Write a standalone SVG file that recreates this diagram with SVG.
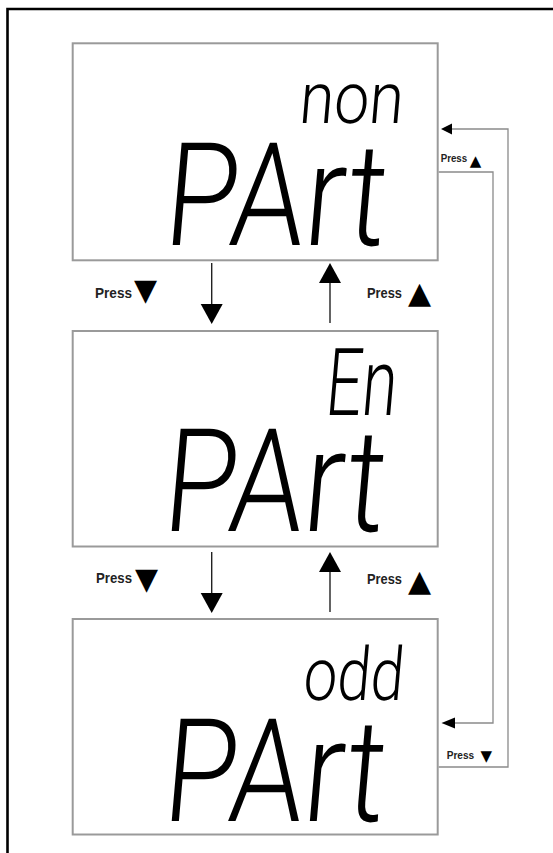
<svg xmlns="http://www.w3.org/2000/svg" width="553" height="853" viewBox="0 0 553 853">
<style>
.frame{fill:none;stroke:#000;stroke-width:2.6}
.box{fill:#fff;stroke:#9a9a9a;stroke-width:2}
.seg{font-family:Roboto,"Open Sans","DejaVu Sans",sans-serif;font-weight:300;fill:#000}
.pr{font-family:"Liberation Sans",Arial,sans-serif;font-weight:bold;fill:#222}
.tri{font-family:"DejaVu Sans",sans-serif;fill:#000}
.arr{stroke:#222;stroke-width:1.4;fill:none}
.fb{stroke:#8a8a8a;stroke-width:1.3;fill:none}
.head{fill:#000}
</style>
<rect width="553" height="853" fill="#fff"/>
<path class="frame" d="M7.5,860 V9 H560"/>

<g id="node-non">
<rect class="box" x="72.7" y="43.3" width="365" height="217"/>
<text class="seg" font-size="72" textLength="104" lengthAdjust="spacingAndGlyphs" transform="translate(298,123) skewX(-5)">non</text>
<text class="seg" font-size="144" textLength="221" lengthAdjust="spacingAndGlyphs" transform="translate(162,245) skewX(-5)">PArt</text>
</g>

<g id="node-en">
<rect class="box" x="72.7" y="331" width="365" height="215.5"/>
<text class="seg" font-size="94" textLength="71" lengthAdjust="spacingAndGlyphs" transform="translate(324,415) skewX(-5)">En</text>
<text class="seg" font-size="144" textLength="221" lengthAdjust="spacingAndGlyphs" transform="translate(161,531) skewX(-5)">PArt</text>
</g>

<g id="node-odd">
<rect class="box" x="72.7" y="619" width="365" height="215.5"/>
<text class="seg" font-size="74" textLength="100" lengthAdjust="spacingAndGlyphs" transform="translate(302,700) skewX(-5)">odd</text>
<text class="seg" font-size="144" textLength="221" lengthAdjust="spacingAndGlyphs" transform="translate(161,821) skewX(-5)">PArt</text>
</g>

<g id="connectors">
<line class="arr" x1="211.7" y1="263" x2="211.7" y2="305"/>
<polygon class="head" points="200.7,304 222.7,304 211.7,324"/>
<line class="arr" x1="330" y1="282" x2="330" y2="323"/>
<polygon class="head" points="319,283 341,283 330,263"/>
<line class="arr" x1="211.7" y1="552" x2="211.7" y2="594"/>
<polygon class="head" points="200.7,593 222.7,593 211.7,613"/>
<line class="arr" x1="330" y1="571" x2="330" y2="612"/>
<polygon class="head" points="319,572 341,572 330,552"/>

<polyline class="fb" points="438.7,767 508,767 508,129 451,129"/>
<polygon class="head" points="441,129 452,123.5 452,134.5"/>
<polyline class="fb" points="438.7,172 493,172 493,723 454,723"/>
<polygon class="head" points="441.5,723 455,717.5 455,728.5"/>
</g>

<g id="labels">
<text class="pr" x="95" y="298" font-size="15" textLength="37" lengthAdjust="spacingAndGlyphs">Press</text>
<text class="tri" x="134" y="300" font-size="30">▼</text>
<text class="pr" x="367" y="298" font-size="15" textLength="35" lengthAdjust="spacingAndGlyphs">Press</text>
<text class="tri" x="408" y="303" font-size="30">▲</text>

<text class="pr" x="96" y="583" font-size="15" textLength="36" lengthAdjust="spacingAndGlyphs">Press</text>
<text class="tri" x="135" y="589" font-size="30">▼</text>
<text class="pr" x="367" y="584" font-size="15" textLength="35" lengthAdjust="spacingAndGlyphs">Press</text>
<text class="tri" x="408" y="591" font-size="30">▲</text>

<text class="pr" x="440.7" y="162" font-size="10.5" textLength="26.5" lengthAdjust="spacingAndGlyphs">Press</text>
<text class="tri" x="469.8" y="166" font-size="15">▲</text>
<text class="pr" x="446.7" y="759" font-size="11" textLength="27.5" lengthAdjust="spacingAndGlyphs">Press</text>
<text class="tri" x="480.5" y="761" font-size="15">▼</text>
</g>
</svg>
